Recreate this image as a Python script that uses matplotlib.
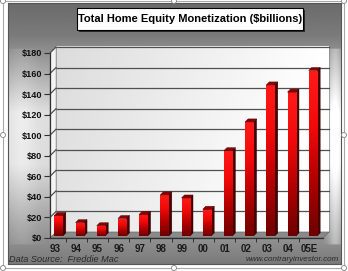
import numpy as np
import matplotlib
matplotlib.use("Agg")
import matplotlib.pyplot as plt
from matplotlib.patches import Rectangle, Polygon, Ellipse
from matplotlib.colors import LinearSegmentedColormap

# ---- data ----
categories = ["93", "94", "95", "96", "97", "98", "99", "00", "01", "02", "03", "04", "05E"]
values = [20, 13, 10, 17, 21, 40, 37, 26, 83, 111, 147, 140, 161]
yticks = [0, 20, 40, 60, 80, 100, 120, 140, 160, 180]
ytick_labels = ["$" + str(v) for v in yticks]
title = "Total Home Equity Monetization ($billions)"
source_text = "Data Source:  Freddie Mac"
site_text = "www.contraryinvestor.com"

W, H = 348, 271
fig = plt.figure(figsize=(W / 100, H / 100), dpi=100)
fig.patch.set_facecolor("white")

def fx(px):
    return px / W

def fy(py):
    return 1 - py / H

# ---- outer selection frame ----
fig.add_artist(Rectangle((fx(3), fy(268)), fx(344) - fx(3), fy(1) - fy(268),
                         transform=fig.transFigure, fill=False, ec="#a8a8a8", lw=0.8))
for (px, py) in [(3, 1), (174, 1), (344, 1), (3, 135), (344, 135), (3, 268), (174, 268), (344, 268)]:
    fig.add_artist(Ellipse((fx(px), fy(py)), 5 / W, 5 / H, transform=fig.transFigure,
                           fc="white", ec="#808080", lw=0.6, zorder=10))

# ---- gray gradient panel ----
bg = fig.add_axes([fx(8), fy(264), fx(341) - fx(8), fy(3) - fy(264)])
ny, nx = 200, 200
t = np.linspace(0, 1, ny)
stops_t = [0, 0.12, 0.42, 0.62, 0.85, 1.0]
stops_v = [0.42, 0.48, 0.87, 0.86, 0.62, 0.48]
vert = np.interp(t, stops_t, stops_v)[:, None]
xs = np.linspace(0, 1, nx)[None, :]
horiz = 0.06 * np.exp(-((xs - 0.04) / 0.04) ** 2) + 0.18 * np.exp(-((xs - 0.985) / 0.02) ** 2)
grad = np.clip(vert + horiz * (vert > 0.55), 0, 1)
bg.imshow(grad, cmap="gray", vmin=0, vmax=1, aspect="auto", extent=[0, 1, 0, 1], origin="upper")
bg.set_xlim(0, 1)
bg.set_ylim(0, 1)
bg.set_xticks([])
bg.set_yticks([])
for s in bg.spines.values():
    s.set_color("#555555")
    s.set_linewidth(0.8)

# ---- main axes ----
ax_l, ax_r, ax_t, ax_b = 50, 323, 53, 238
ax = fig.add_axes([fx(ax_l), fy(ax_b), fx(ax_r) - fx(ax_l), fy(ax_t) - fy(ax_b)])
ax.patch.set_visible(False)
x0, x1 = -0.24, 12.64
ax.set_xlim(x0, x1)
ax.set_ylim(0, 180)
sx = (x1 - x0) / (ax_r - ax_l)
sy = 180 / (ax_b - ax_t)
wdx, wdy = 6 * sx, 6 * sy  # wall depth

# back wall gradient
wall = np.linspace(0.86, 1.0, 100)[None, :] * np.ones((50, 1))
wall = wall + 0.03 * np.linspace(0, 1, 50)[:, None]
ax.imshow(np.clip(wall, 0, 1), cmap="gray", vmin=0, vmax=1, aspect="auto",
          extent=[x0 + wdx, x1 + wdx, wdy, 180 + wdy], origin="upper", zorder=0, clip_on=False)
ax.add_patch(Rectangle((x0 + wdx, wdy), x1 - x0, 180, fill=False, ec="#888888", lw=0.5, zorder=1, clip_on=False))
for v in yticks[1:]:
    ax.plot([x0 + wdx, x1 + wdx], [v + wdy, v + wdy], color="#505050", lw=0.9, zorder=1, clip_on=False)

# left side wall
ax.add_patch(Polygon([(x0, 0), (x0, 180), (x0 + wdx, 180 + wdy), (x0 + wdx, wdy)],
                     closed=True, fc="#f4f4f4", ec="#999999", lw=0.4, zorder=1.5, clip_on=False))
for v in yticks[1:]:
    ax.plot([x0, x0 + wdx], [v, v + wdy], color="#505050", lw=0.9, zorder=2, clip_on=False)

# floor
ax.add_patch(Polygon([(x0, 0), (x1, 0), (x1 + wdx, wdy), (x0 + wdx, wdy)],
                     closed=True, fc="#8a8a8a", ec="#6a6a6a", lw=0.5, zorder=2, clip_on=False))

# ---- 3D bars ----
xpos = np.arange(len(categories))
bw = 0.4
bdx, bdy = 3.5 * sx, 2 * sy      # bar position offset (depth)
ddx, ddy = 3 * sx, 3 * sy        # bar depth
red_cmap = LinearSegmentedColormap.from_list("r", ["#6e0000", "#b00000", "#f20a0a", "#ff1a1a"])
grad_v = np.linspace(1, 0, 64)[:, None] * np.ones((1, 8))
bars = ax.bar(xpos + bdx, values, width=bw, bottom=bdy, color="#d00000", zorder=3, lw=0)
for b, v in zip(bars, values):
    xl = b.get_x()
    xr = xl + b.get_width()
    yb = b.get_y()
    yt = yb + b.get_height()
    im = ax.imshow(grad_v, cmap=red_cmap, vmin=0, vmax=1, aspect="auto",
                   extent=[xl, xr, yb, yt], origin="upper", zorder=3.1)
    im.set_clip_path(b)
    ax.add_patch(Polygon([(xr, yb), (xr, yt), (xr + ddx, yt + ddy), (xr + ddx, yb + ddy)],
                         closed=True, fc="#4a0000", ec="#2a0000", lw=0.3, zorder=3))
    ax.add_patch(Polygon([(xl, yt), (xr, yt), (xr + ddx, yt + ddy), (xl + ddx, yt + ddy)],
                         closed=True, fc="#8a0000", ec="#3a0000", lw=0.3, zorder=3.2))

ax.set_xlim(x0, x1)
ax.set_ylim(0, 180)

# ---- axes styling ----
for s in ["top", "right"]:
    ax.spines[s].set_visible(False)
for s in ["left", "bottom"]:
    ax.spines[s].set_color("#303030")
    ax.spines[s].set_linewidth(0.9)
    ax.spines[s].set_zorder(4)
ax.set_yticks(yticks)
ax.set_yticklabels(ytick_labels)
ax.set_xticks(xpos)
ax.set_xticklabels(categories)
ax.set_xticks(np.arange(len(categories) - 1) + 0.5, minor=True)
ax.tick_params(axis="y", length=4, width=0.8, color="#303030", pad=1.5,
               labelsize=6.6, labelcolor="#111111")
ax.tick_params(axis="x", which="major", length=0, pad=4, labelsize=7, labelcolor="#1a1a1a")
ax.tick_params(axis="x", which="minor", length=3, width=0.7, color="#303030")
for lab in ax.get_yticklabels() + ax.get_xticklabels():
    lab.set_fontfamily("Liberation Sans")
    lab.set_fontweight("bold")

# ---- title box ----
fig.add_artist(Rectangle((fx(79), fy(32)), fx(305) - fx(79), fy(8) - fy(30),
                         transform=fig.transFigure, fc="#2a2a2a", ec="none", zorder=5))
fig.add_artist(Rectangle((fx(77), fy(30)), fx(303) - fx(77), fy(8) - fy(30),
                         transform=fig.transFigure, fc="white", ec="black", lw=0.8, zorder=6))
fig.text(fx(190), fy(19), title, ha="center", va="center", fontsize=8, fontweight="bold",
         family="Liberation Sans", color="black", zorder=7)

# ---- footer ----
fig.text(fx(9), fy(259.5), source_text, ha="left", va="center", fontsize=6.6, style="italic",
         family="Liberation Sans", color="#2a2a2a")
fig.text(fx(339), fy(259.5), site_text, ha="right", va="center", fontsize=5.8, style="italic",
         family="Liberation Sans", color="#2a2a2a")

fig.savefig("out.png", dpi=100, facecolor="white")
